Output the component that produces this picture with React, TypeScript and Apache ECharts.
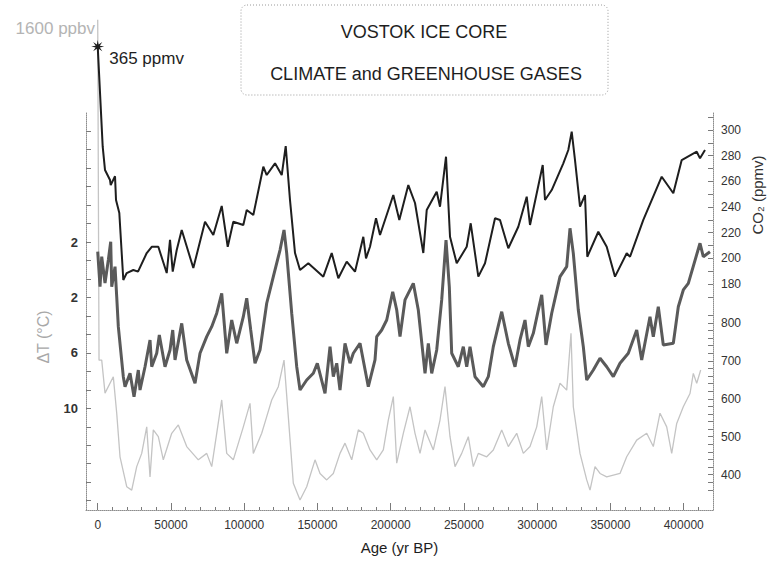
import React, { useEffect, useRef } from "react";
import * as echarts from "echarts";

// Age (yr BP) vs value pairs
const co2Record: [number, number][] = [
  [0, 365], [3400, 287], [4980, 268.8], [8400, 261], [8870, 257], [11810, 264], [12490, 245.4], [14740, 235.3],
  [17470, 183.1], [19800, 188.5], [24300, 190.9], [27510, 189.6], [33450, 204.1], [36860, 209], [41370, 209],
  [47100, 188.5], [49350, 214.3], [51200, 189.6], [53930, 206.5], [57340, 222], [65260, 192.4], [73240, 228.5],
  [78910, 218.2], [84640, 240.8], [88740, 209], [92560, 228.5], [99390, 226], [101710, 237.6], [106210, 233.7],
  [113040, 271.4], [115360, 264.9], [121030, 274], [125600, 264.9], [128330, 287.5], [131260, 245.4],
  [134680, 204.1], [138090, 190.9], [143760, 196.1], [154000, 185.7], [159730, 204.1], [164240, 184.4],
  [169970, 197.4], [175630, 189.6], [181300, 216.8], [183140, 200], [185870, 209], [189970, 231.2],
  [192700, 218.2], [201780, 249.3], [205870, 229.9], [212020, 257.1], [216590, 243.1], [222260, 204.1],
  [224580, 237.6], [231400, 251.9], [233650, 240.2], [237750, 279.2], [240480, 216.8], [245050, 196.1],
  [251880, 209], [254610, 227.3], [259800, 185.7], [264370, 196.1], [271200, 231.2], [274610, 229.9],
  [280280, 207.8], [287100, 224.6], [292840, 248], [295090, 226], [303760, 272.7], [305330, 245.4],
  [309900, 253.2], [317820, 274], [321230, 284.4], [323550, 298.7], [325800, 276.6], [329220, 240.2],
  [332630, 249.3], [334200, 201.2], [341710, 220.7], [347440, 209], [353110, 185.7], [361090, 203.9],
  [363350, 201.2], [372430, 229.9], [384990, 263.6], [392910, 250.7], [398640, 276.6], [408880, 283.1],
  [411130, 277.9], [414540, 284.4],
];

const tempRecord: [number, number][] = [
  [0, 1.3], [1570, -1.23], [2730, 0.94], [4980, -0.96], [7240, 0.7], [8870, 2.02], [9560, -1.23], [11810, 0.22],
  [12970, -1.95], [14060, -4.11], [17470, -7.72], [18640, -8.44], [22050, -7.47], [24780, -9.16], [27710, -7.24],
  [28870, -8.68], [32290, -7.0], [35700, -5.07], [36860, -7.0], [40270, -6.03], [42050, -4.71], [45940, -7.0],
  [49350, -5.79], [51200, -4.35], [52770, -6.51], [57340, -3.87], [60750, -6.51], [66420, -8.19], [69830, -6.03],
  [74400, -4.83], [77820, -4.11], [81230, -3.14], [84640, -1.7], [88060, -6.03], [91470, -3.63], [94880, -5.31],
  [99390, -3.39], [101710, -2.06], [104440, -4.35], [107370, -6.75], [110790, -5.79], [115360, -2.42],
  [119870, -0.5], [124440, 1.42], [127170, 2.87], [129010, 1.18], [132420, -3.14], [135840, -7.0], [138090, -8.68],
  [142660, -7.96], [147170, -7.47], [149900, -6.75], [155150, -8.92], [158570, -5.55], [160820, -7.72],
  [163140, -6.75], [165390, -8.68], [168800, -5.31], [172220, -6.75], [174470, -6.03], [179050, -5.31],
  [184710, -8.44], [189280, -6.51], [190450, -4.83], [193860, -4.35], [197270, -3.63], [201370, -1.59],
  [204100, -2.91], [206350, -4.83], [209760, -2.18], [215430, -0.98], [218840, -2.91], [223420, -7.48],
  [225670, -5.31], [227990, -7.48], [231400, -5.79], [234810, -2.18], [237750, 2.14], [240000, -1.23],
  [241640, -6.03], [246150, -7.0], [249560, -5.55], [251880, -7.0], [254130, -5.55], [257550, -7.72],
  [263210, -8.44], [266620, -7.72], [270040, -5.55], [275770, -3.03], [280280, -5.31], [284850, -7.0],
  [288260, -5.07], [291670, -3.63], [293930, -5.55], [297340, -4.59], [300750, -2.91], [303080, -1.82],
  [306010, -5.43], [309900, -3.14], [315570, -0.5], [320140, 0.22], [322390, 2.99], [324650, 1.18],
  [328060, -2.91], [331470, -5.55], [333800, -7.96], [338300, -7.24], [342880, -6.39], [347440, -7.0],
  [351950, -7.72], [356520, -6.75], [362190, -6.03], [367920, -4.35], [371330, -6.51], [376990, -3.39],
  [379250, -4.83], [382660, -2.67], [386080, -5.43], [392910, -5.31], [396320, -2.67], [399730, -1.46],
  [403150, -0.98], [411130, 1.91], [413380, 0.94], [417950, 1.3],
];

const ch4Record: [number, number][] = [
  [0, 1600], [890, 702], [2730, 702], [4980, 615], [10650, 658], [12970, 562], [15220, 447], [19800, 368],
  [23210, 359], [26620, 421], [30030, 456], [33450, 526], [35700, 394], [37950, 518], [41370, 500], [44780, 439],
  [50510, 509], [55020, 531], [60750, 474], [68670, 439], [74400, 456], [77820, 421], [81230, 509], [84640, 597],
  [88060, 456], [92560, 439], [99390, 526], [103960, 588], [106210, 456], [111940, 509], [115360, 553],
  [118770, 597], [123280, 632], [127170, 702], [130100, 553], [133520, 377], [138090, 333], [142660, 368],
  [148330, 439], [151740, 403], [156320, 386], [160820, 403], [165390, 456], [168800, 483], [173380, 439],
  [177890, 518], [181300, 509], [185870, 465], [190450, 439], [194950, 465], [198360, 544], [201780, 606],
  [204100, 430], [208600, 509], [213170, 579], [216590, 509], [220000, 456], [223420, 518], [229080, 465],
  [233650, 544], [237060, 632], [240480, 500], [243890, 421], [248470, 456], [252970, 500], [256380, 421],
  [259800, 456], [265530, 447], [270040, 465], [275770, 518], [280280, 474], [286010, 509], [290520, 456],
  [295090, 474], [299670, 526], [303080, 606], [306490, 465], [310990, 579], [315570, 641], [320140, 623],
  [323070, 773], [324650, 579], [329220, 456], [333800, 386], [336050, 359], [339460, 421], [342880, 403],
  [347440, 394], [356520, 403], [361090, 447], [367920, 491], [374750, 509], [379250, 474], [383830, 562],
  [388400, 526], [391810, 456], [395230, 535], [399730, 579], [404300, 614], [406560, 667], [408880, 641],
  [411600, 676],
];

const ageTickLabels = [0, 50000, 100000, 150000, 200000, 250000, 300000, 350000, 400000];
const ageMinorTicks = Array.from({ length: 42 }, (_, i) => i * 10000);
const tempTickLabels = [2, -2, -6, -10];
const tempMinorTicks = Array.from({ length: 21 }, (_, i) => 10 - (i * 4) / 3);
const co2TickLabels = [180, 200, 220, 240, 260, 280, 300];
const co2MinorTicks = Array.from({ length: 15 }, (_, i) => 170 + i * 10);
const ch4TickLabels = [400, 500, 600, 700, 800];
const ch4MinorTicks = Array.from({ length: 24 }, (_, i) => 360 + i * 20);

const FONT = "'Liberation Sans', Arial, Helvetica, sans-serif";
const STAR =
  "path://M20 10L13.23 11.34L17.07 17.07L11.34 13.23L10 20L8.66 13.23L2.93 17.07L6.77 11.34L0 10L6.77 8.66L2.93 2.93L8.66 6.77L10 0L11.34 6.77L17.07 2.93L13.23 8.66Z";

const axisLineStyle = { color: "#8c8c8c", width: 1, type: "dotted" as const };
const tickStyle = { color: "#7a7a7a", width: 1 };

export default function App() {
  const ref = useRef<HTMLDivElement>(null);

  useEffect(() => {
    if (!ref.current) return;
    const chart = echarts.init(ref.current, null, { renderer: "svg" });

    const co2Data = co2Record.map((p, i) =>
      i === 0
        ? {
            value: p,
            symbol: STAR,
            symbolSize: 13,
            itemStyle: { color: "#1e1e1e" },
            label: {
              show: true,
              position: "right",
              distance: 5,
              offset: [0, 12],
              formatter: "365 ppmv",
              fontSize: 17,
              color: "#1e1e1e",
              fontFamily: FONT,
            },
          }
        : p
    );

    const option: any = {
      animation: false,
      backgroundColor: "#ffffff",
      textStyle: { fontFamily: FONT },
      grid: { left: 86, right: 59, top: 113, bottom: 51, outerBoundsMode: "none", containLabel: false },
      xAxis: [
        {
          type: "value",
          position: "bottom",
          min: -8000,
          max: 420000,
          axisLine: { show: true, onZero: false, lineStyle: axisLineStyle },
          axisTick: { show: true, inside: true, length: 3, customValues: ageMinorTicks, lineStyle: tickStyle },
          axisLabel: {
            show: true,
            customValues: ageTickLabels,
            margin: 9,
            fontSize: 12,
            color: "#333333",
            formatter: (v: number) => String(v),
          },
          splitLine: { show: false },
          name: "Age (yr BP)",
          nameLocation: "middle",
          nameGap: 30,
          nameTextStyle: { fontSize: 15, color: "#1e1e1e" },
        },
        {
          type: "value",
          position: "bottom",
          min: -8000,
          max: 420000,
          axisLine: { show: false, onZero: false },
          axisTick: { show: true, inside: true, length: 7, customValues: ageTickLabels, lineStyle: tickStyle },
          axisLabel: { show: false },
          splitLine: { show: false },
        },
      ],
      yAxis: [
        {
          type: "value",
          position: "left",
          min: -17.34,
          max: 11.31,
          axisLine: { show: true, onZero: false, lineStyle: axisLineStyle },
          axisTick: { show: true, inside: true, length: 5, customValues: tempMinorTicks, lineStyle: tickStyle },
          axisLabel: {
            show: true,
            customValues: tempTickLabels,
            margin: 8,
            fontSize: 13,
            fontWeight: "bold",
            color: "#333333",
            formatter: (v: number) => String(Math.abs(v)),
          },
          splitLine: { show: false },
        },
        {
          type: "value",
          position: "right",
          min: 3.83,
          max: 313.25,
          axisLine: { show: true, onZero: false, lineStyle: axisLineStyle },
          axisTick: { show: true, inside: true, length: 5, customValues: co2MinorTicks, lineStyle: tickStyle },
          axisLabel: {
            show: true,
            customValues: co2TickLabels,
            margin: 8,
            fontSize: 12,
            color: "#333333",
            formatter: (v: number) => String(v),
          },
          splitLine: { show: false },
        },
        {
          type: "value",
          position: "right",
          min: 306.6,
          max: 1354.1,
          axisLine: { show: false, onZero: false },
          axisTick: { show: true, inside: true, length: 5, customValues: ch4MinorTicks, lineStyle: tickStyle },
          axisLabel: {
            show: true,
            customValues: ch4TickLabels,
            margin: 8,
            fontSize: 12,
            color: "#333333",
            formatter: (v: number) => String(v),
          },
          splitLine: { show: false },
        },
      ],
      graphic: [
        {
          type: "rect",
          shape: { x: 241, y: 5, width: 367, height: 90, r: 6 },
          style: { fill: "none", stroke: "#9a9a9a", lineWidth: 1, lineDash: [1, 2] },
        },
        {
          type: "text",
          x: 424,
          y: 32,
          style: {
            text: "VOSTOK ICE CORE",
            fontSize: 18,
            fontFamily: FONT,
            fill: "#1e1e1e",
            align: "center",
            verticalAlign: "middle",
          },
        },
        {
          type: "text",
          x: 426,
          y: 74,
          style: {
            text: "CLIMATE and GREENHOUSE GASES",
            fontSize: 18,
            fontFamily: FONT,
            fill: "#1e1e1e",
            align: "center",
            verticalAlign: "middle",
          },
        },
        {
          type: "text",
          x: 95,
          y: 28,
          style: {
            text: "1600 ppbv",
            fontSize: 17,
            fontFamily: FONT,
            fill: "#b4b4b4",
            align: "right",
            verticalAlign: "middle",
          },
        },
        {
          type: "text",
          x: 43,
          y: 337,
          rotation: Math.PI / 2,
          style: {
            text: "ΔT (°C)",
            fontSize: 16,
            fontFamily: FONT,
            fill: "#a8a8a8",
            align: "center",
            verticalAlign: "middle",
          },
        },
        {
          type: "text",
          x: 757,
          y: 195,
          rotation: Math.PI / 2,
          style: {
            text: "CO₂ (ppmv)",
            fontSize: 15,
            fontFamily: FONT,
            fill: "#333333",
            align: "center",
            verticalAlign: "middle",
          },
        },
      ],
      series: [
        {
          type: "line",
          name: "CH4",
          xAxisIndex: 0,
          yAxisIndex: 2,
          data: ch4Record,
          symbol: "none",
          clip: false,
          lineStyle: { color: "#c4c4c4", width: 1.3 },
          z: 1,
        },
        {
          type: "line",
          name: "Temperature",
          xAxisIndex: 0,
          yAxisIndex: 0,
          data: tempRecord,
          symbol: "none",
          clip: false,
          lineStyle: { color: "#5a5a5a", width: 3 },
          z: 2,
        },
        {
          type: "line",
          name: "CO2",
          xAxisIndex: 0,
          yAxisIndex: 1,
          data: co2Data,
          symbol: "none",
          clip: false,
          lineStyle: { color: "#1e1e1e", width: 2 },
          z: 3,
        },
      ],
    };

    chart.setOption(option);
    return () => chart.dispose();
  }, []);

  return (
    <div
      ref={ref}
      style={{ position: "fixed", left: 0, top: 0, width: 772, height: 561, background: "#ffffff" }}
    />
  );
}
